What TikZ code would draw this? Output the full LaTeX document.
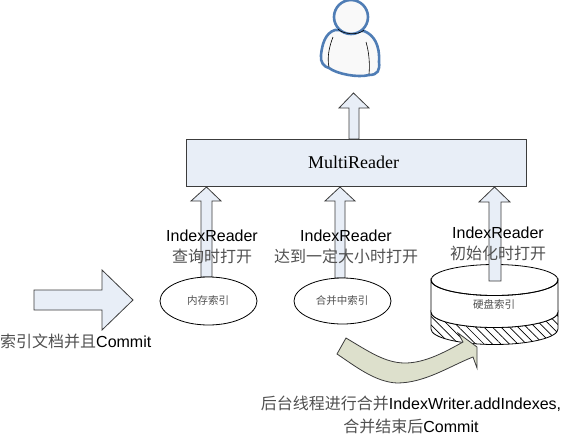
\documentclass[tikz,border=0pt]{standalone}
\usepackage{fontspec}
\setmainfont{Liberation Sans}
\newfontfamily\cjk{Noto Sans CJK SC}[Scale=1]
\newfontfamily\serifl{Liberation Serif}
\usetikzlibrary{patterns.meta}
\definecolor{boxblue}{HTML}{E8EEF7}
\definecolor{edgegray}{HTML}{3C3C3C}
\definecolor{olivefill}{HTML}{DDE0CC}
\definecolor{personblue}{HTML}{4F7DB5}
\definecolor{labelgray}{HTML}{505050}
\newcommand{\zh}[1]{{\cjk\fontsize{16}{18}\selectfont\color{labelgray}#1}}
\tikzset{
  blockarrow/.style={draw=edgegray,fill=boxblue,line width=.8pt,line join=miter},
  cap16/.style={font=\fontsize{16}{18}\selectfont,text=black,inner sep=0pt,align=center},
  small/.style={font=\cjk\fontsize{10.5}{12}\selectfont,text=labelgray,inner sep=0pt}
}
\begin{document}
\begin{tikzpicture}[x=1pt,y=-1pt]
\useasboundingbox (0,0) rectangle (566,437);
% person
\draw[personblue,line width=2.6pt,fill=white!95!gray,line join=round]
  (335,30) .. controls (325,33) and (322,45) .. (321,55)
  .. controls (320,62) and (324,67) .. (329,68)
  .. controls (337,74) and (358,78) .. (369,75)
  .. controls (378,75) and (380,70) .. (379,62)
  .. controls (380,45) and (374,35) .. (364,31) -- cycle;
\draw[personblue,line width=2.6pt,fill=white!95!gray] (351,17) circle (17);
\draw[black,line width=.6pt] (338,29) .. controls (342,34) and (358,36) .. (364,30);
\draw[black,line width=.6pt] (333,37) .. controls (329,47) and (327,58) .. (329,67);
\draw[black,line width=.6pt] (366,42) .. controls (369,52) and (370,64) .. (369,74);
% top arrow
\draw[blockarrow] (349,139) -- (349,108) -- (339,108) -- (353.5,93) -- (369,108) -- (359,108) -- (359,139) -- cycle;
% MultiReader
\node[draw=edgegray,fill=boxblue,line width=.8pt,minimum width=340pt,minimum height=47pt,inner sep=0pt,font=\serifl\fontsize{18}{20}\selectfont,anchor=center] (mr) at (356,162.5) {\hspace{-5pt}MultiReader};
% index ellipses
\draw[blockarrow] (201,277) -- (201,201) -- (191,201) -- (206.5,187) -- (221,201) -- (212,201) -- (212,277) -- cycle;
\draw[blockarrow] (335,278) -- (335,201) -- (325,201) -- (340,187) -- (355,201) -- (345,201) -- (345,278) -- cycle;
\draw[line width=.8pt,fill=white] (208.5,301) ellipse (48.5 and 24);
\draw[line width=.8pt,fill=white] (342.5,301) ellipse (48.5 and 23);
\node[small] (m1) at (208,301) {内存索引};
\node[small] (m2) at (342,301) {合并中索引};
% disk
\draw[line width=.8pt,pattern={Lines[angle=-45,distance=6pt,line width=.7pt]}] (431,312) arc[start angle=180,end angle=0,x radius=63.5,y radius=15.5] -- (558,329) arc[start angle=0,end angle=180,x radius=63.5,y radius=15.5] -- cycle;
\draw[line width=.8pt,fill=white] (431,280) -- (431,312) arc[start angle=180,end angle=0,x radius=63.5,y radius=15.5] -- (558,280) arc[start angle=0,end angle=180,x radius=63.5,y radius=15.5] -- cycle;
\draw[line width=.8pt] (494.5,280) ellipse (63.5 and 15.5);
\node[small] (m3) at (494,304) {硬盘索引};
\draw[blockarrow] (489,281) -- (489,202) -- (479,202) -- (494.5,187) -- (510,202) -- (501,202) -- (501,281) -- cycle;
% text over arrows
\node[cap16] (l1) at (212,247) {IndexReader\\[3pt]\zh{查询时打开}};
\node[cap16] (l2) at (346,247) {IndexReader\\[3pt]\zh{达到一定大小时打开}};
\node[cap16] (l3) at (498,244) {IndexReader\\[3pt]\zh{初始化时打开}};
% left block arrow
\draw[blockarrow] (34,290) -- (102,290) -- (102,270) -- (133,300) -- (102,330) -- (102,310) -- (34,310) -- cycle;
\node[cap16,anchor=west] (l4) at (0,341) {\zh{索引文档并且}Commit};
% curved arrow
\draw[edgegray,fill=olivefill,line width=.8pt,line join=miter] (346,338) .. controls (368,351) and (385,363) .. (405,363) .. controls (425,363) and (445,352) .. (463,342) -- (458,333) -- (477,347) -- (477,368) -- (473,357) .. controls (450,366) and (425,383) .. (397,383) .. controls (375,382) and (355,366) .. (337,354) -- cycle;
\node[cap16] (l5) at (411,415) {\zh{后台线程进行合并}IndexWriter.addIndexes,\\[5pt]\zh{合并结束后}Commit};
\end{tikzpicture}
\end{document}
